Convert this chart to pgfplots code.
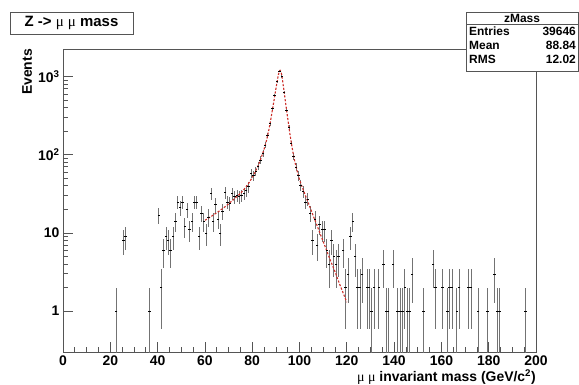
\documentclass[border=0pt]{standalone}
\usepackage{fontspec}
\setmainfont{Liberation Sans}
\newfontfamily\symf{Liberation Serif}
\usepackage{pgfplots}
\usepackage{pgfplotstable}
\pgfplotsset{compat=1.18}
\definecolor{fitred}{RGB}{205,45,40}
\definecolor{framegray}{RGB}{85,85,85}
\pgfplotstableread{
x y
22.5 1
25.5 8
26.5 9
36.5 1
40.5 17
41.5 2
42.5 6
43.5 9
44.5 8
45.5 6
46.5 9
47.5 14
48.5 25
49.5 21
50.5 25
51.5 12
52.5 20
53.5 11
54.5 14
55.5 25
56.5 25
57.5 9
58.5 18
59.5 14
60.5 10
61.5 16
62.5 32
63.5 14
64.5 23
65.5 15
66.5 10
67.5 19
68.5 33
69.5 25
70.5 24
71.5 32
72.5 29
73.5 30
74.5 29
75.5 30
76.5 32
77.5 35
78.5 39
79.5 58
80.5 54
81.5 62
82.5 72
83.5 86
84.5 105
85.5 132
86.5 175
87.5 250
88.5 390
89.5 570
90.5 860
91.5 1180
92.5 1000
93.5 620
94.5 370
95.5 225
96.5 140
97.5 95
98.5 70
99.5 54
100.5 41
101.5 34
102.5 25
103.5 27
104.5 18
105.5 8
106.5 15
107.5 7
108.5 13
109.5 11
110.5 11
111.5 6
112.5 4
113.5 8
114.5 5
115.5 4
116.5 5
118.5 6
119.5 2
120.5 3
121.5 9
122.5 14
123.5 5
124.5 2
125.5 2
126.5 3
128.5 2
129.5 2
130.5 1
131.5 2
133.5 2
135.5 4
136.5 1
137.5 1
139.5 4
141.5 1
142.5 1
143.5 1
144.5 2
145.5 1
146.5 1
147.5 3
152.5 1
156.5 4
157.5 2
160.5 2
162.5 1
163.5 2
164.5 2
166.5 1
167.5 2
171.5 2
172.5 2
175.5 1
179.5 1
182.5 3
183.5 1
184.5 1
195.5 1
}\datatable
\begin{document}
\begin{tikzpicture}
\path[use as bounding box] (0,0) rectangle (579bp,385bp);
\begin{axis}[
  at={(63bp,33bp)}, anchor=south west,
  scale only axis, width=473bp, height=303bp,
  xmin=0, xmax=200, ymode=log, ymin=0.3, ymax=2250,
  axis line style={framegray, line width=0.8bp},
  xtick={0,20,...,200}, minor x tick num=3,
  ytick={1,10,100,1000},
  yticklabels={1,10,10\textsuperscript{2},10\textsuperscript{3}},
  xtick pos=left, ytick pos=left, tick align=inside,
  major tick length=10bp, minor tick length=5bp,
  tick style={framegray, line width=0.7bp},
  /pgf/number format/assume math mode=true,
  tick label style={font=\bfseries\fontsize{14}{16}\selectfont},
  xticklabel style={inner sep=0pt, yshift=-3.5bp},
  xlabel={{\symf\mdseries μ μ} invariant mass (GeV/c\textsuperscript{2})},
  ylabel={Events},
  xlabel style={at={(axis description cs:1,-0.058)}, anchor=north east, font=\bfseries\fontsize{14}{16}\selectfont, inner sep=0pt},
  ylabel style={at={(axis description cs:-0.076,1)}, anchor=east, font=\bfseries\fontsize{14}{16}\selectfont, inner sep=0pt},
]
\addplot[only marks, mark=-, mark size=1.2bp, black, mark options={line width=0.6bp},
  error bars/.cd, y dir=both, y explicit, error mark=none,
  error bar style={line width=0.6bp, black!55}]
  table[x=x, y=y, y error plus expr={sqrt(\thisrow{y})}, y error minus expr={min(sqrt(\thisrow{y}),\thisrow{y}-0.02)}] {\datatable};
\addplot[fitred, line width=1.1bp, dash pattern=on 2.2bp off 1.6bp, no marks] coordinates {
(60,14.5) (61,15.1) (62,15.8) (63,16.5) (64,17.3) (65,18.1) (66,19) (67,20) (68,21) (69,22.2)
(70,23.5) (71,25) (72,26.5) (73,28.2) (74,30) (75,32) (76,34.5) (77,37.5) (78,41) (79,45.5)
(80,51) (81,58) (82,67) (83,79) (84,95) (85,117) (86,150) (87,205) (88,300) (89,450)
(90,690) (90.5,850) (91,1030) (91.5,1170) (91.8,1200) (92,1180) (92.5,1050) (93,820) (93.5,640) (94,490)
(94.5,380) (95,295) (95.5,230) (96,180) (96.5,145) (97,118) (97.5,97) (98,82) (99,62) (100,48)
(101,39.5) (102,33) (103,27.5) (104,23) (105,19.2) (106,16) (107,13.4) (108,11.2) (109,9.3) (110,7.8)
(111,6.5) (112,5.4) (113,4.5) (114,3.8) (115,3.2) (116,2.65) (117,2.2) (118,1.85) (119,1.55) (120,1.3)
};
\end{axis}
\node[draw=framegray, line width=0.8bp, fill=white, minimum width=123bp, minimum height=22bp, inner sep=0pt,
  font=\bfseries\fontsize{15}{17}\selectfont] at (71.5bp,362bp) {Z -> {\symf\mdseries μ} {\symf\mdseries μ} mass};
\draw[framegray, line width=0.8bp, fill=white] (466bp,313.3bp) rectangle (578bp,372.3bp);
\draw[framegray, line width=0.8bp] (466bp,360.7bp) -- (578bp,360.7bp);
\begin{scope}[every node/.style={font=\bfseries\fontsize{12}{13}\selectfont, inner sep=0pt}]
\node at (522bp,366.5bp) {zMass};
\node[anchor=west] at (469bp,354bp) {Entries};
\node[anchor=east] at (576bp,354bp) {39646};
\node[anchor=west] at (469bp,340bp) {Mean};
\node[anchor=east] at (576bp,340bp) {88.84};
\node[anchor=west] at (469bp,326bp) {RMS};
\node[anchor=east] at (576bp,326bp) {12.02};
\end{scope}
\end{tikzpicture}
\end{document}
